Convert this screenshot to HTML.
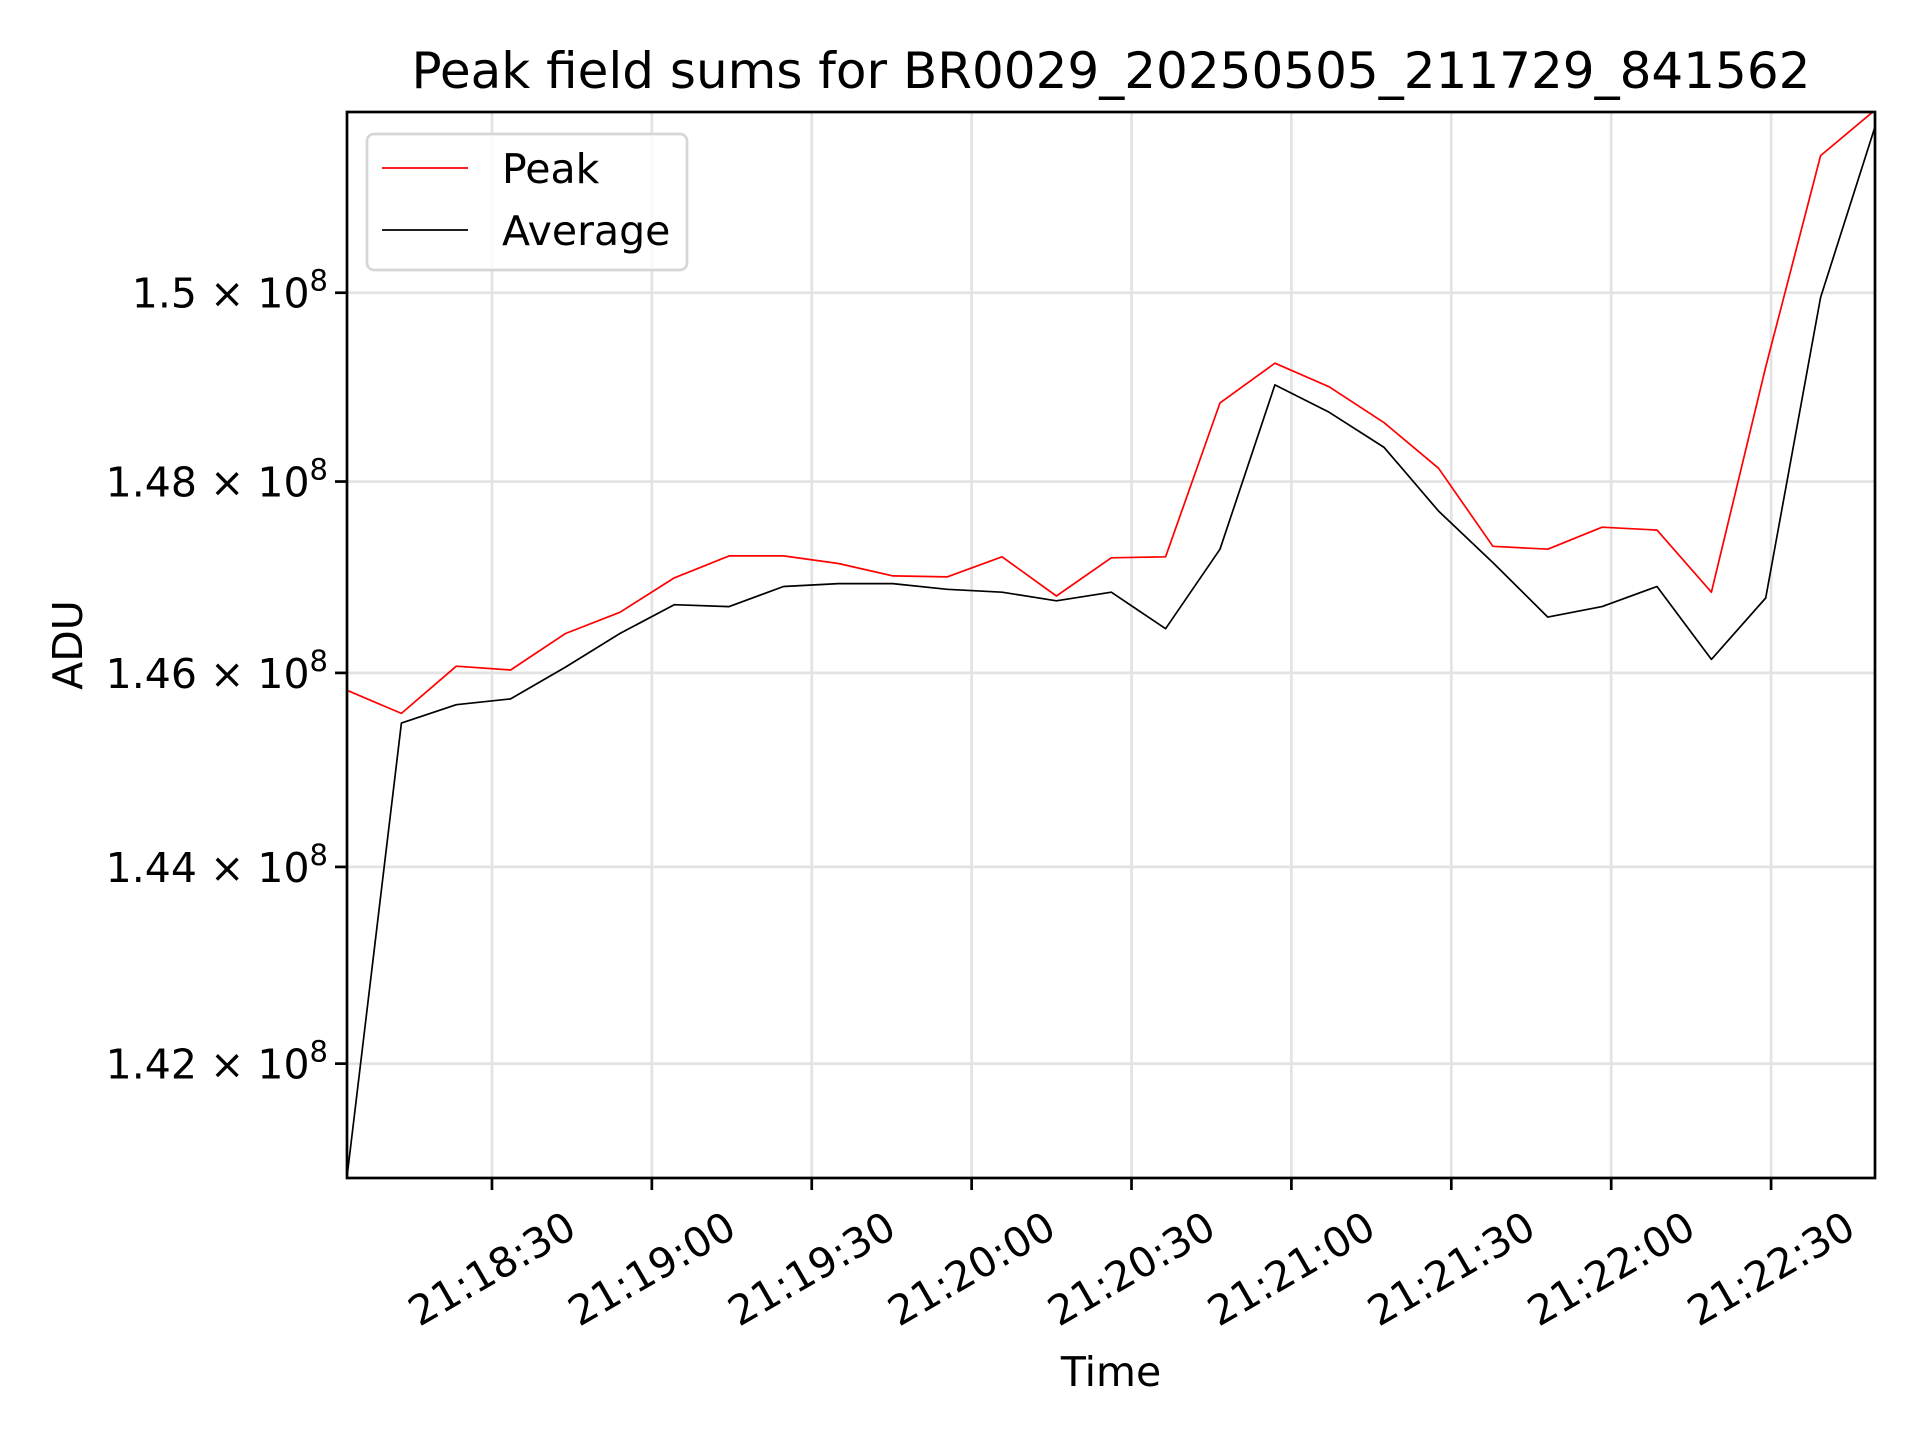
<!DOCTYPE html>
<html><head><meta charset="utf-8"><style>
html,body{margin:0;padding:0;background:#fff;}
svg{display:block;font-family:"DejaVu Sans","Liberation Sans",sans-serif;}
</style></head><body>
<svg id="chart" width="1920" height="1440" viewBox="0 0 1920 1440" xmlns="http://www.w3.org/2000/svg">
<rect x="0" y="0" width="1920" height="1440" fill="#fff"/>
<text x="1111" y="88" font-size="50" text-anchor="middle">Peak field sums for BR0029_20250505_211729_841562</text>
<g id="grid"></g>
<g id="series"></g>
<rect x="347" y="112" width="1528" height="1066" fill="none" stroke="#000" stroke-width="2.7"/>
<g id="axes"></g>
<text x="0" y="0" font-size="41" text-anchor="middle" transform="translate(82,645) rotate(-90)">ADU</text>
<text x="1111" y="1386" font-size="41" text-anchor="middle">Time</text>
<g>
<rect x="367" y="134" width="320" height="136" rx="7" fill="#fff" fill-opacity="0.8" stroke="#d6d6d6" stroke-width="2.7"/>
<line x1="382" y1="168" x2="468" y2="168" stroke="#ff0000" stroke-width="1.7"/>
<text x="502" y="183" font-size="41">Peak</text>
<line x1="382" y1="230" x2="468" y2="230" stroke="#000" stroke-width="1.7"/>
<text x="502" y="245" font-size="41">Average</text>
</g>
</svg>
<script>
// seconds after 21:18:00
const times = [2.8,13.0,23.3,33.5,43.8,54.0,64.2,74.5,84.7,95.0,105.2,115.4,125.7,135.9,146.2,156.4,166.6,176.9,187.1,197.4,207.6,217.8,228.1,238.3,248.6,258.8,269.0,279.3,289.5];
// values in units of 1e8 ADU
const peakValues = [1.4582,1.4558,1.4607,1.4603,1.4641,1.4663,1.4699,1.4722,1.4722,1.4714,1.4701,1.4700,1.4721,1.4680,1.4720,1.4721,1.4883,1.4925,1.4900,1.4862,1.4814,1.4732,1.4729,1.4752,1.4749,1.4684,1.4921,1.5147,1.5196];
const averageValues = [1.4086,1.4548,1.4567,1.4573,1.4606,1.4641,1.4671,1.4669,1.4690,1.4693,1.4693,1.4687,1.4684,1.4675,1.4684,1.4646,1.4729,1.4902,1.4873,1.4836,1.4769,1.4715,1.4658,1.4669,1.4690,1.4614,1.4678,1.4995,1.5178];
const yTickValues = [1.42,1.44,1.46,1.48,1.5];
const yTickLabels = ["1.42","1.44","1.46","1.48","1.5"];
const xTickValues = [30,60,90,120,150,180,210,240,270];
const xTickLabels = ["21:18:30","21:19:00","21:19:30","21:20:00","21:20:30","21:21:00","21:21:30","21:22:00","21:22:30"];

const L=347,R=1875,T=112,B=1178;
const xMin=2.8,xMax=289.5,yMin=1.4085,yMax=1.5194;
function xs(t){return L+(t-xMin)/(xMax-xMin)*(R-L);}
function ys(v){return B-(Math.log10(v)-Math.log10(yMin))/(Math.log10(yMax)-Math.log10(yMin))*(B-T);}
const NS="http://www.w3.org/2000/svg";
function mk(tag,attrs,parent){const e=document.createElementNS(NS,tag);for(const k in attrs)e.setAttribute(k,attrs[k]);parent.appendChild(e);return e;}
const grid=document.getElementById('grid'),axes=document.getElementById('axes'),series=document.getElementById('series');

xTickValues.forEach((t,i)=>{
  const x=xs(t);
  const g=mk('line',{x1:x,y1:T,x2:x,y2:B,stroke:'#e3e3e3','stroke-width':2.7},grid);
  
  
  const tk=mk('line',{x1:x,y1:B,x2:x,y2:B+12,stroke:'#000','stroke-width':2.7},axes);
  
  
  const lb=mk('text',{x:0,y:0,'font-size':41,'text-anchor':'middle','dominant-baseline':'central',transform:`translate(${x},${B+91}) rotate(-30)`},axes);
  lb.textContent=xTickLabels[i];
  
  
});
yTickValues.forEach((v,i)=>{
  const y=ys(v);
  const g=mk('line',{x1:L,y1:y,x2:R,y2:y,stroke:'#e3e3e3','stroke-width':2.7},grid);
  
  
  const tk=mk('line',{x1:L-12,y1:y,x2:L,y2:y,stroke:'#000','stroke-width':2.7},axes);
  
  
  const lb=mk('text',{x:L-19,y:y+15,'font-size':41,'text-anchor':'end'},axes);
  
  
  const a=document.createElementNS(NS,'tspan');a.textContent=yTickLabels[i]+' \u00d7 10';lb.appendChild(a);
  const s=document.createElementNS(NS,'tspan');s.setAttribute('font-size','29');s.setAttribute('dy','-17');s.textContent='8';lb.appendChild(s);
});
function line(vals,color,name){
  const d=vals.map((v,i)=>(i?'L':'M')+xs(times[i]).toFixed(1)+','+ys(v).toFixed(1)).join(' ');
  const p=mk('path',{d:d,fill:'none',stroke:color,'stroke-width':1.7,'stroke-linejoin':'round'},series);
  
  
}
const clip=mk('clipPath',{id:'pc'},document.getElementById('chart'));
mk('rect',{x:L,y:T,width:R-L,height:B-T},clip);
series.setAttribute('clip-path','url(#pc)');
line(averageValues,'#000','average-line');
line(peakValues,'#ff0000','peak-line');
</script>
</body></html>
